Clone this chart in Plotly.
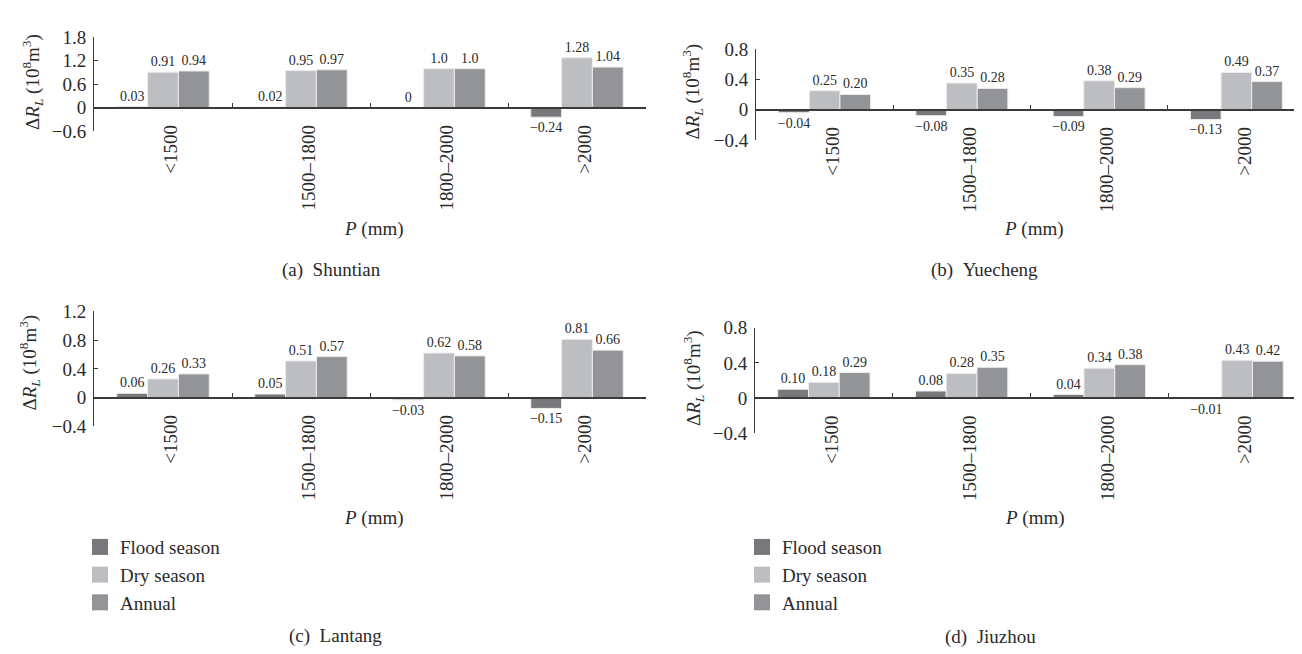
import plotly.graph_objects as go

W, H = 1302, 654

categories = ["<1500", "1500–1800", "1800–2000", ">2000"]
series_names = ["Flood season", "Dry season", "Annual"]
series_colors = ["#77787c", "#bdbec2", "#939498"]

shuntian_flood = [0.03, 0.02, 0, -0.24]
shuntian_dry = [0.91, 0.95, 1.0, 1.28]
shuntian_annual = [0.94, 0.97, 1.0, 1.04]
shuntian_flood_lbl = ["0.03", "0.02", "0", "−0.24"]
shuntian_dry_lbl = ["0.91", "0.95", "1.0", "1.28"]
shuntian_annual_lbl = ["0.94", "0.97", "1.0", "1.04"]

yuecheng_flood = [-0.04, -0.08, -0.09, -0.13]
yuecheng_dry = [0.25, 0.35, 0.38, 0.49]
yuecheng_annual = [0.20, 0.28, 0.29, 0.37]

lantang_flood = [0.06, 0.05, -0.03, -0.15]
lantang_dry = [0.26, 0.51, 0.62, 0.81]
lantang_annual = [0.33, 0.57, 0.58, 0.66]

jiuzhou_flood = [0.10, 0.08, 0.04, -0.01]
jiuzhou_dry = [0.18, 0.28, 0.34, 0.43]
jiuzhou_annual = [0.29, 0.35, 0.38, 0.42]

panel_titles = ["(a)\u00a0\u00a0Shuntian", "(b)\u00a0\u00a0Yuecheng", "(c)\u00a0\u00a0Lantang", "(d)\u00a0\u00a0Jiuzhou"]
y_ranges = [(-0.6, 1.8), (-0.4, 0.8), (-0.4, 1.2), (-0.4, 0.8)]
y_dticks = [0.6, 0.4, 0.4, 0.4]


def fmt(v):
    return f"{v:.2f}".replace("-", "−")


def labels(vals):
    return [fmt(v) for v in vals]


panel_values = [
    (shuntian_flood, shuntian_dry, shuntian_annual),
    (yuecheng_flood, yuecheng_dry, yuecheng_annual),
    (lantang_flood, lantang_dry, lantang_annual),
    (jiuzhou_flood, jiuzhou_dry, jiuzhou_annual),
]
panel_labels = [
    (shuntian_flood_lbl, shuntian_dry_lbl, shuntian_annual_lbl),
    tuple(labels(s) for s in panel_values[1]),
    tuple(labels(s) for s in panel_values[2]),
    tuple(labels(s) for s in panel_values[3]),
]

# layout geometry in pixels: (x0, x1, y_top, y_bottom)
geom = [(86, 638, 20, 117), (748, 1297, 32, 126), (86, 638, 303, 422), (747, 1298, 320, 429)]
ytitle_pos = [(25, 66), (685, 76), (22, 356), (685, 372)]
xtitle_pos = [(366, 218), (1026, 218), (366, 517), (1027, 517)]
sub_pos = [(323, 260), (977, 260), (327, 639), (982, 640)]

FONT = "Liberation Serif, Times New Roman, serif"
TXT = "#2a2a2a"


def px(x):
    return x / W


def py(y):
    return 1 - y / H


fig = go.Figure()
layout = dict(
    width=W, height=H, margin=dict(l=0, r=0, t=0, b=0),
    paper_bgcolor="white", plot_bgcolor="white",
    font=dict(family=FONT, size=19, color=TXT),
    barmode="group", bargap=0.33, bargroupgap=0,
    annotations=[],
)

for i in range(4):
    n = "" if i == 0 else str(i + 1)
    xa, ya = "x" + n, "y" + n
    x0, x1, yt, yb = geom[i]
    lo, hi = y_ranges[i]
    d0, d1 = py(yb), py(yt)
    zero_pos = d0 + (0 - lo) / (hi - lo) * (d1 - d0)
    for s in range(3):
        fig.add_trace(go.Bar(
            x=categories, y=panel_values[i][s], name=series_names[s],
            marker=dict(color=series_colors[s], line=dict(color="#ececec", width=1)),
            text=panel_labels[i][s], textposition="outside", constraintext="none",
            textfont=dict(size=14, color=TXT, family=FONT), cliponaxis=False,
            xaxis=xa, yaxis=ya, showlegend=False, hoverinfo="skip",
        ))
        # legend entries (larger square swatches) for panels (c) and (d)
        if i in (2, 3):
            fig.add_trace(go.Scatter(
                x=[None], y=[None], mode="markers", name=series_names[s],
                marker=dict(symbol="square", size=16, color=series_colors[s]),
                xaxis=xa, yaxis=ya, showlegend=True, hoverinfo="skip",
                legend="legend" if i == 2 else "legend2",
            ))
    layout["xaxis" + n] = dict(
        domain=[px(x0), px(x1)], anchor="free", position=zero_pos,
        type="category", categoryorder="array", categoryarray=categories,
        showline=True, linecolor="#3a3a3a", linewidth=1.5,
        ticks="inside", tickson="boundaries", ticklen=4, tickcolor="#3a3a3a",
        tickangle=-90, ticklabelstandoff=9, ticklabelshift=8,
        tickfont=dict(size=19, family=FONT, color=TXT),
        showgrid=False, zeroline=False, fixedrange=True,
    )
    layout["yaxis" + n] = dict(
        domain=[d0, d1], anchor=xa, range=[lo, hi], dtick=y_dticks[i], tick0=0,
        showline=True, linecolor="#3a3a3a", linewidth=1,
        ticks="inside", ticklen=4, tickcolor="#3a3a3a", ticklabelstandoff=3,
        tickfont=dict(size=19, family=FONT, color=TXT),
        showgrid=False, zeroline=False, fixedrange=True,
    )
    tx, ty = ytitle_pos[i]
    layout["annotations"].append(dict(
        text="Δ<i>R</i><sub><i>L</i></sub> (10<sup>8</sup>m<sup>3</sup>)",
        x=px(tx), y=py(ty), xref="paper", yref="paper", textangle=-90,
        xanchor="center", yanchor="middle", showarrow=False,
        font=dict(size=19, family=FONT, color=TXT)))
    tx, ty = xtitle_pos[i]
    layout["annotations"].append(dict(
        text="<i>P</i> (mm)", x=px(tx), y=py(ty), xref="paper", yref="paper",
        xanchor="center", yanchor="middle", showarrow=False,
        font=dict(size=19, family=FONT, color=TXT)))
    tx, ty = sub_pos[i]
    layout["annotations"].append(dict(
        text=panel_titles[i], x=px(tx), y=py(ty), xref="paper", yref="paper",
        xanchor="center", yanchor="middle", showarrow=False,
        font=dict(size=19, family=FONT, color=TXT)))

leg_common = dict(font=dict(size=19, family=FONT, color=TXT), bgcolor="rgba(0,0,0,0)",
                  xanchor="left", yanchor="top", itemclick=False, itemdoubleclick=False,
                  tracegroupgap=0)
layout["legend"] = dict(x=px(72), y=py(527), **leg_common)
layout["legend2"] = dict(x=px(734), y=py(527), **leg_common)
fig.update_layout(**layout)

fig.write_html("out.html")
